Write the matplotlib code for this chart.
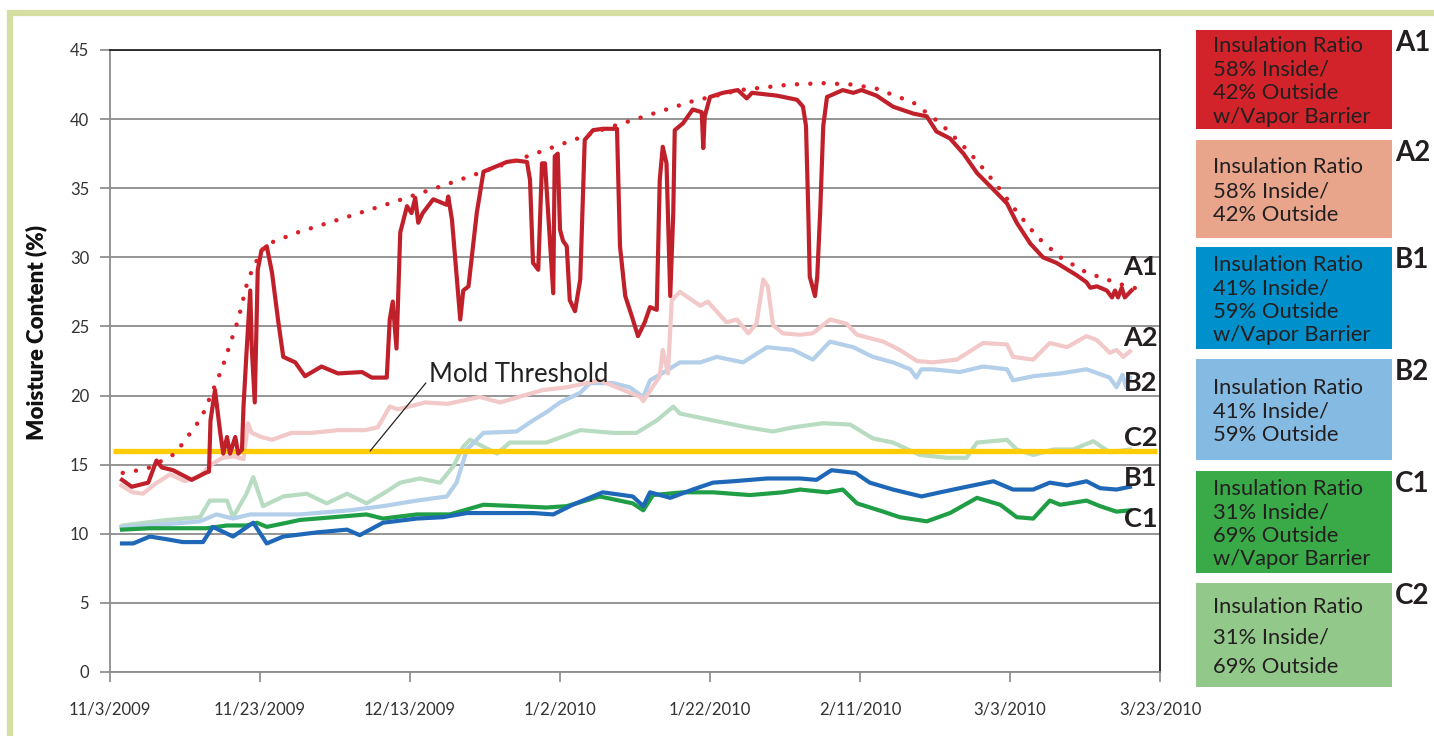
import matplotlib
matplotlib.use("Agg")
import matplotlib.pyplot as plt
from matplotlib.patches import Rectangle

plt.rcParams['font.family'] = ['Lato', 'DejaVu Sans']

# -------------------------------
# data (x = days since 11/3/2009, y = moisture content %)
# -------------------------------
tick_days = [0, 20, 40, 60, 80, 100, 120, 140]
tick_labels = ["11/3/2009", "11/23/2009", "12/13/2009", "1/2/2010",
               "1/22/2010", "2/11/2010", "3/3/2010", "3/23/2010"]

a1_day = [1.6, 2.9, 5.1, 6.2, 6.9, 8.4, 10.9, 12.7, 13.2, 13.4, 14.0, 14.7, 15.1, 15.6,
          16.0, 16.7, 17.1, 17.6, 17.8, 18.2, 18.7, 18.9, 19.3, 19.7, 20.2, 20.9, 21.6,
          22.4, 23.1, 24.7, 26.0, 28.2, 30.4, 33.6, 34.9, 36.9, 37.3, 37.7, 38.2, 38.7,
          39.6, 40.2, 40.7, 41.1, 41.7, 43.1, 44.9, 45.1, 45.6, 46.7, 47.1, 47.8, 48.9,
          49.8, 51.6, 52.9, 54.2, 55.6, 56.0, 56.4, 57.1, 57.6, 58.0, 59.1, 59.3, 59.7,
          60.0, 60.4, 60.9, 61.3, 62.0, 62.7, 63.3, 64.4, 65.7, 67.6, 68.0, 68.7, 69.6,
          70.4, 71.3, 72.0, 72.9, 73.3, 73.7, 74.2, 74.7, 75.1, 75.3, 76.4, 77.7, 78.9,
          79.1, 79.3, 80.0, 81.7, 83.7, 84.9, 85.6, 88.9, 91.6, 92.4, 92.8, 93.1, 93.3,
          94.0, 94.3, 94.7, 95.1, 95.6, 97.7, 99.1, 100.2, 102.2, 104.4, 107.1, 108.9,
          110.2, 112.0, 113.8, 115.6, 117.8, 119.6, 120.9, 122.7, 124.4, 126.2, 128.9,
          130.2, 130.7, 131.6, 132.9, 133.6, 134.0, 134.4, 134.9, 135.3, 136.2]
a1_val = [13.9, 13.4, 13.7, 15.3, 14.8, 14.6, 13.9, 14.4, 14.5, 18.2, 20.4, 17.3, 15.8, 17.0,
          15.8, 17.0, 15.8, 16.1, 19.2, 23.1, 27.6, 23.5, 19.5, 29.1, 30.5, 30.8, 28.9,
          25.5, 22.8, 22.4, 21.4, 22.1, 21.6, 21.7, 21.3, 21.3, 25.5, 26.8, 23.4, 31.8,
          33.7, 33.2, 34.3, 32.5, 33.2, 34.2, 33.8, 34.4, 32.7, 25.5, 27.6, 27.9, 33.2,
          36.2, 36.6, 36.9, 37.0, 36.9, 35.6, 29.6, 29.1, 36.8, 36.8, 27.4, 37.3, 37.5,
          32.0, 31.2, 30.8, 26.9, 26.1, 28.4, 38.5, 39.2, 39.3, 39.3, 30.8, 27.2, 25.7,
          24.3, 25.3, 26.4, 26.2, 35.6, 38.0, 36.8, 27.2, 33.2, 39.2, 39.7, 40.7, 40.5,
          37.9, 40.2, 41.6, 41.9, 42.1, 41.5, 41.9, 41.7, 41.4, 40.9, 39.5, 33.4, 28.6,
          27.2, 28.6, 33.4, 39.5, 41.6, 42.1, 41.9, 42.1, 41.7, 40.9, 40.4, 40.2,
          39.1, 38.6, 37.5, 36.1, 34.9, 33.9, 32.5, 31.0, 30.0, 29.6, 28.7,
          28.2, 27.8, 27.9, 27.6, 27.1, 27.6, 27.1, 27.8, 27.1, 27.6]

trend_day = [1.7, 4.9, 8.7, 12.2, 14.9, 17.1, 18.4, 19.6, 20.7, 25.0, 30.9, 36.7, 45.0,
             55.6, 66.0, 77.7, 84.0, 90.7, 95.1, 99.0, 102.2, 107.1, 110.7, 113.7, 115.7,
             118.4, 120.9, 123.6, 126.7, 130.2, 132.9, 135.6, 138.2]
trend_val = [14.4, 14.7, 15.8, 18.4, 21.9, 25.5, 28.4, 29.8, 30.9, 31.8, 32.8, 33.8, 35.3,
             37.3, 39.3, 41.3, 42.1, 42.5, 42.6, 42.5, 42.2, 41.2, 39.7, 38.1, 36.9,
             35.1, 33.3, 31.5, 30.0, 28.9, 28.4, 27.9, 27.6]

a2_day = [1.5, 3.0, 4.4, 6.0, 8.0, 10.0, 12.0, 13.5, 15.0, 16.5, 17.8, 18.4, 18.9, 20.2,
          21.6, 24.2, 26.9, 30.4, 34.0, 35.7, 37.3, 38.4, 42.0, 45.0, 49.3, 52.0, 57.7,
          60.9, 65.3, 70.7, 71.1, 73.3, 73.7, 74.4, 74.9, 76.0, 78.7, 79.7, 82.2, 83.6,
          85.1, 86.2, 87.1, 87.7, 88.4, 89.7, 92.0, 93.7, 96.0, 98.2, 99.6, 103.1, 105.3,
          107.6, 109.7, 112.9, 116.4, 119.6, 120.4, 123.1, 125.3, 127.6, 130.2, 131.6,
          133.3, 134.2, 135.1, 136.0]
a2_val = [13.5, 13.0, 12.9, 13.6, 14.3, 13.8, 14.2, 15.0, 15.5, 15.6, 15.4, 18.0, 17.3, 17.0,
          16.8, 17.3, 17.3, 17.5, 17.5, 17.7, 19.2, 19.0, 19.5, 19.4, 19.9, 19.5, 20.4,
          20.6, 21.1, 19.9, 19.6, 21.4, 23.3, 21.6, 26.9, 27.5, 26.5, 26.8, 25.3, 25.5,
          24.5, 25.2, 28.4, 27.9, 25.1, 24.5, 24.4, 24.5, 25.5, 25.2, 24.4, 23.9, 23.3,
          22.5, 22.4, 22.6, 23.8, 23.7, 22.8, 22.6, 23.8, 23.5, 24.3, 24.0,
          23.1, 23.3, 22.8, 23.2]

b2_day = [1.5, 5.0, 10.0, 12.0, 14.2, 16.4, 18.7, 25.3, 32.0, 36.4, 40.9, 44.9, 46.2, 47.6,
          49.8, 54.2, 56.4, 58.2, 60.0, 62.7, 64.0, 67.1, 69.3, 71.1, 72.0, 74.2, 76.0,
          78.7, 80.9, 84.4, 87.6, 91.1, 93.7, 96.0, 99.1, 101.7, 104.4, 106.7, 107.5,
          108.2, 109.7, 113.3, 116.4, 119.6, 120.4, 123.1, 126.7, 130.2, 133.3, 134.2,
          135.0, 135.5, 136.0]
b2_val = [10.5, 10.6, 10.8, 10.9, 11.4, 11.1, 11.4, 11.4, 11.7, 12.0, 12.4, 12.7, 13.7, 16.1,
          17.3, 17.4, 18.2, 18.8, 19.5, 20.2, 20.9, 20.9, 20.6, 19.9, 21.1, 21.8, 22.4,
          22.4, 22.8, 22.4, 23.5, 23.3, 22.6, 23.9, 23.5, 22.8, 22.4, 21.9, 21.3,
          21.9, 21.9, 21.7, 22.1, 21.9, 21.1, 21.4, 21.6, 21.9, 21.3, 20.6,
          21.5, 20.6, 21.3]

c2_day = [1.7, 7.6, 12.0, 13.3, 15.6, 16.4, 18.2, 19.1, 20.4, 23.1, 26.2, 28.9, 31.6, 34.2,
          36.4, 38.7, 41.3, 44.0, 45.8, 47.1, 48.0, 51.6, 53.3, 58.2, 62.7, 67.1, 70.2,
          72.9, 75.1, 76.0, 80.4, 85.0, 88.4, 91.1, 95.1, 98.7, 101.7, 104.4, 108.0,
          111.6, 114.2, 115.6, 119.6, 120.9, 123.1, 125.8, 128.4, 131.1, 133.3, 136.0]
c2_val = [10.6, 11.0, 11.2, 12.4, 12.4, 11.2, 12.9, 14.1, 12.0, 12.7, 12.9, 12.2, 12.9, 12.2,
          12.9, 13.7, 14.0, 13.7, 14.9, 16.3, 16.8, 15.8, 16.6, 16.6, 17.5, 17.3, 17.3,
          18.2, 19.2, 18.7, 18.2, 17.7, 17.4, 17.7, 18.0, 17.9, 16.9, 16.6, 15.7,
          15.5, 15.5, 16.6, 16.8, 16.1, 15.7, 16.1, 16.1, 16.7, 15.9, 16.1]

b1_day = [1.6, 3.1, 5.3, 7.6, 9.7, 12.4, 13.7, 16.4, 19.1, 20.9, 23.1, 27.6, 31.6, 33.3,
          36.4, 40.9, 44.4, 47.6, 52.0, 56.4, 59.1, 61.7, 65.7, 69.7, 71.1, 72.0, 74.7,
          77.7, 80.4, 83.1, 87.6, 92.0, 94.2, 96.2, 99.4, 101.3, 104.4, 108.2, 110.7,
          114.2, 117.8, 120.4, 123.1, 125.3, 127.6, 130.2, 132.0, 134.2, 136.0]
b1_val = [9.3, 9.3, 9.8, 9.6, 9.4, 9.4, 10.5, 9.8, 10.8, 9.3, 9.8, 10.1, 10.3, 9.9,
          10.8, 11.1, 11.2, 11.5, 11.5, 11.5, 11.4, 12.1, 13.0, 12.7, 12.0, 13.0, 12.6,
          13.2, 13.7, 13.8, 14.0, 14.0, 13.9, 14.6, 14.4, 13.7, 13.2, 12.7, 13.0,
          13.4, 13.8, 13.2, 13.2, 13.7, 13.5, 13.8, 13.3, 13.2, 13.4]

c1_day = [1.6, 5.3, 9.7, 12.9, 15.6, 18.2, 19.6, 20.9, 23.6, 25.3, 29.8, 34.2, 36.4, 40.9,
          45.3, 49.8, 54.2, 58.2, 60.9, 65.3, 69.7, 71.1, 72.4, 76.4, 80.4, 85.3, 89.7,
          92.0, 95.6, 97.7, 99.6, 103.1, 105.3, 108.9, 112.0, 115.6, 118.7, 120.9, 123.1,
          125.3, 126.7, 130.2, 132.0, 134.2, 136.0]
c1_val = [10.3, 10.4, 10.4, 10.4, 10.6, 10.6, 10.8, 10.5, 10.8, 11.0, 11.2, 11.4, 11.1, 11.4,
          11.4, 12.1, 12.0, 11.9, 12.0, 12.7, 12.2, 11.7, 12.8, 13.0, 13.0, 12.8, 13.0,
          13.2, 13.0, 13.2, 12.2, 11.6, 11.2, 10.9, 11.5, 12.6, 12.1, 11.2, 11.1,
          12.4, 12.1, 12.4, 12.0, 11.6, 11.7]

mold_threshold = 16

series_names = ["A1", "A2", "B1", "B2", "C1", "C2"]
series_text = ["Insulation Ratio\n58% Inside/\n42% Outside\nw/Vapor Barrier",
               "Insulation Ratio\n58% Inside/\n42% Outside",
               "Insulation Ratio\n41% Inside/\n59% Outside\nw/Vapor Barrier",
               "Insulation Ratio\n41% Inside/\n59% Outside",
               "Insulation Ratio\n31% Inside/\n69% Outside\nw/Vapor Barrier",
               "Insulation Ratio\n31% Inside/\n69% Outside"]
box_colors = ["#d2232a", "#e8a58c", "#0091cd", "#85bbe3", "#3aaa48", "#92c98a"]

# -------------------------------
# figure
# -------------------------------
fig = plt.figure(figsize=(14.34, 7.36), dpi=100)
ax = fig.add_axes([110/1434, 1 - 672/736, 1050/1434, 622/736])

ax.plot(c2_day, c2_val, color="#b8dcc2", lw=3)
ax.plot(b2_day, b2_val, color="#b3cfea", lw=3)
ax.plot(a2_day, a2_val, color="#f3c8c8", lw=3)
ax.plot(c1_day, c1_val, color="#1f9e45", lw=3)
ax.plot(b1_day, b1_val, color="#1f68b8", lw=3)
ax.plot([0.4, 139.6], [mold_threshold, mold_threshold], color="#ffcc00", lw=3.8,
        solid_capstyle="butt")
ax.plot(a1_day, a1_val, color="#c0202a", lw=3)
ax.plot(trend_day, trend_val, color="#d9202a", lw=3.2,
        linestyle=(0, (0.01, 3.0)), dash_capstyle="round")

# mold threshold callout
ax.plot([34.7, 42.1], [16.0, 20.9], color="#222222", lw=0.9)
ax.text(42.5, 21.5, "Mold Threshold", fontsize=18.5, color="#222222",
        ha="left", va="center")

# series labels at the right end
label_y = {"A1": 29.3, "A2": 24.2, "B2": 20.9, "C2": 16.9, "B1": 14.0, "C1": 11.1}
for name, yv in label_y.items():
    ax.text(139.7, yv, name, fontsize=19.5, fontweight="bold", color="#231f20",
            ha="right", va="center")

ax.set_xlim(0, 140)
ax.set_ylim(0, 45)
ax.set_yticks(range(0, 50, 5))
ax.set_xticks(tick_days)
ax.set_xticklabels(tick_labels)
ax.tick_params(axis="both", direction="out", length=7, width=1.2, color="#888888",
               labelsize=12, labelcolor="#333333")
ax.tick_params(axis="x", pad=14)
ax.tick_params(axis="y", pad=8)
ax.grid(axis="y", color="#8c8c8c", lw=1.3)
ax.set_axisbelow(True)
for side in ["left", "bottom"]:
    ax.spines[side].set_color("#8c8c8c")
    ax.spines[side].set_linewidth(1.3)
for side in ["top", "right"]:
    ax.spines[side].set_color("#222222")
    ax.spines[side].set_linewidth(1.3)
ax.set_ylabel("Moisture Content (%)", fontsize=16, fontweight="heavy", color="#111111")
ax.yaxis.set_label_coords((47 - 110) / 1050, (672 - 333) / 622)

# legend boxes on the right
box_tops = [30, 140, 247, 359, 471, 583]
box_bottoms = [129, 238, 349, 460, 573, 687]
line_gaps = [1.21, 1.22, 1.21, 1.22, 1.21, 1.6]
for name, txt, col, top, bot, gap in zip(series_names, series_text, box_colors,
                                         box_tops, box_bottoms, line_gaps):
    x0 = 1196 / 1434
    w = 196 / 1434
    y0 = 1 - bot / 736
    h = (bot - top) / 736
    fig.patches.append(Rectangle((x0, y0), w, h, transform=fig.transFigure,
                                 facecolor=col, edgecolor="none"))
    fig.text(1213 / 1434, y0 + h / 2 - 2 / 736, txt, fontsize=15.8, color="#231f20",
             ha="left", va="center", linespacing=gap)
    fig.text(1395 / 1434, 1 - (top + 13) / 736, name, fontsize=20, fontweight="bold",
             color="#231f20", ha="left", va="center")

# outer frame
fig.patches.append(Rectangle((10 / 1434, -0.1), 1.2, 1.1 - 13 / 736,
                             transform=fig.transFigure, fill=False,
                             edgecolor="#d6dea2", lw=4.5))

fig.savefig("out.png", dpi=100)
